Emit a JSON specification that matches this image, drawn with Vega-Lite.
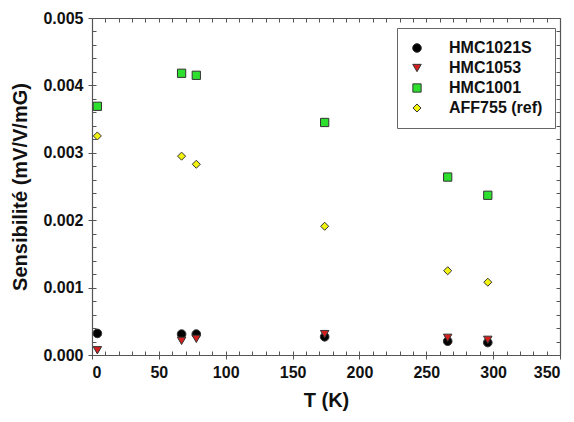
{
  "$schema": "https://vega.github.io/schema/vega-lite/v6.json",
  "width": 468,
  "height": 337,
  "autosize": {"type": "none"},
  "padding": {"left": 92, "top": 18, "right": 14, "bottom": 67},
  "background": "white",
  "config": {
    "view": {"stroke": null},
    "axis": {
      "grid": false,
      "labelFont": "Liberation Sans",
      "labelFontWeight": "bold",
      "labelFontSize": 16,
      "labelColor": "#111",
      "titleFont": "Liberation Sans",
      "titleFontWeight": "bold",
      "titleFontSize": 20,
      "titleColor": "#111",
      "domainColor": "#555",
      "tickColor": "#555",
      "domainWidth": 1.2,
      "tickWidth": 1
    },
    "legend": {
      "orient": "none",
      "legendX": 305,
      "legendY": 10,
      "strokeColor": "#666",
      "fillColor": "white",
      "padding": 12,
      "labelFont": "Liberation Sans",
      "labelFontWeight": "bold",
      "labelFontSize": 16,
      "labelColor": "#111",
      "labelOffset": 24,
      "rowPadding": 4,
      "symbolStrokeWidth": 1
    }
  },
  "data": {
    "values": [
      {"sensor": "HMC1021S", "T": 4, "S": 0.00032},
      {"sensor": "HMC1021S", "T": 67, "S": 0.00031},
      {"sensor": "HMC1021S", "T": 78, "S": 0.00031},
      {"sensor": "HMC1021S", "T": 174, "S": 0.00027},
      {"sensor": "HMC1021S", "T": 266, "S": 0.000205},
      {"sensor": "HMC1021S", "T": 296, "S": 0.000185},
      {"sensor": "HMC1053", "T": 4, "S": 0.00007},
      {"sensor": "HMC1053", "T": 67, "S": 0.00021},
      {"sensor": "HMC1053", "T": 78, "S": 0.00024},
      {"sensor": "HMC1053", "T": 174, "S": 0.00031},
      {"sensor": "HMC1053", "T": 266, "S": 0.000255},
      {"sensor": "HMC1053", "T": 296, "S": 0.000225},
      {"sensor": "HMC1001", "T": 4, "S": 0.00369},
      {"sensor": "HMC1001", "T": 67, "S": 0.00418},
      {"sensor": "HMC1001", "T": 78, "S": 0.00415},
      {"sensor": "HMC1001", "T": 174, "S": 0.00345},
      {"sensor": "HMC1001", "T": 266, "S": 0.00264},
      {"sensor": "HMC1001", "T": 296, "S": 0.00237},
      {"sensor": "AFF755 (ref)", "T": 4, "S": 0.00325},
      {"sensor": "AFF755 (ref)", "T": 67, "S": 0.00295},
      {"sensor": "AFF755 (ref)", "T": 78, "S": 0.00283},
      {"sensor": "AFF755 (ref)", "T": 174, "S": 0.00191},
      {"sensor": "AFF755 (ref)", "T": 266, "S": 0.00125},
      {"sensor": "AFF755 (ref)", "T": 296, "S": 0.00108}
    ]
  },
  "resolve": {"axis": {"x": "independent", "y": "independent"}},
  "layer": [
    {
      "mark": {"type": "point", "filled": true, "opacity": 0},
      "encoding": {
        "x": {"field": "T", "type": "quantitative", "scale": {"domain": [0, 350], "nice": false},
          "axis": {"orient": "top", "values": [0,10,20,30,40,50,60,70,80,90,100,110,120,130,140,150,160,170,180,190,200,210,220,230,240,250,260,270,280,290,300,310,320,330,340,350], "tickSize": -4, "labels": false, "title": null}},
        "y": {"field": "S", "type": "quantitative", "scale": {"domain": [0, 0.005], "nice": false},
          "axis": {"orient": "right", "values": [0,0.0002,0.0004,0.0006,0.0008,0.001,0.0012,0.0014,0.0016,0.0018,0.002,0.0022,0.0024,0.0026,0.0028,0.003,0.0032,0.0034,0.0036,0.0038,0.004,0.0042,0.0044,0.0046,0.0048,0.005], "tickSize": -4, "labels": false, "title": null}}
      }
    },
    {
      "mark": {"type": "point", "filled": true, "opacity": 0},
      "encoding": {
        "x": {"field": "T", "type": "quantitative", "scale": {"domain": [0, 350], "nice": false},
          "axis": {"orient": "bottom", "values": [0,10,20,30,40,50,60,70,80,90,100,110,120,130,140,150,160,170,180,190,200,210,220,230,240,250,260,270,280,290,300,310,320,330,340,350], "tickSize": -4, "labels": false, "domain": false, "title": null}},
        "y": {"field": "S", "type": "quantitative", "scale": {"domain": [0, 0.005], "nice": false},
          "axis": {"orient": "left", "values": [0,0.0002,0.0004,0.0006,0.0008,0.001,0.0012,0.0014,0.0016,0.0018,0.002,0.0022,0.0024,0.0026,0.0028,0.003,0.0032,0.0034,0.0036,0.0038,0.004,0.0042,0.0044,0.0046,0.0048,0.005], "tickSize": -4, "labels": false, "domain": false, "title": null}}
      }
    },
    {
      "mark": {"type": "point", "filled": true, "opacity": 1, "stroke": "#333", "strokeWidth": 1},
      "encoding": {
        "x": {"field": "T", "type": "quantitative", "scale": {"domain": [0, 350], "nice": false},
          "axis": {"orient": "bottom", "values": [0,50,100,150,200,250,300,350], "tickSize": 4, "labelPadding": 5, "title": "T (K)", "titlePadding": 10}},
        "y": {"field": "S", "type": "quantitative", "scale": {"domain": [0, 0.005], "nice": false},
          "axis": {"orient": "left", "values": [0,0.001,0.002,0.003,0.004,0.005], "format": ".3f", "tickSize": 4, "labelPadding": 5, "title": "Sensibilité (mV/V/mG)", "titlePadding": 12}},
        "color": {"field": "sensor", "type": "nominal",
          "scale": {"domain": ["HMC1021S", "HMC1053", "HMC1001", "AFF755 (ref)"], "range": ["#000000", "#d41f1f", "#2ee02e", "#f2f20f"]},
          "legend": {"title": null}},
        "shape": {"field": "sensor", "type": "nominal",
          "scale": {"domain": ["HMC1021S", "HMC1053", "HMC1001", "AFF755 (ref)"], "range": ["circle", "triangle-down", "square", "diamond"]},
          "legend": {"title": null}},
        "size": {"field": "sensor", "type": "nominal",
          "scale": {"domain": ["HMC1021S", "HMC1053", "HMC1001", "AFF755 (ref)"], "range": [75, 65, 72, 130]},
          "legend": {"title": null}}
      }
    }
  ]
}
